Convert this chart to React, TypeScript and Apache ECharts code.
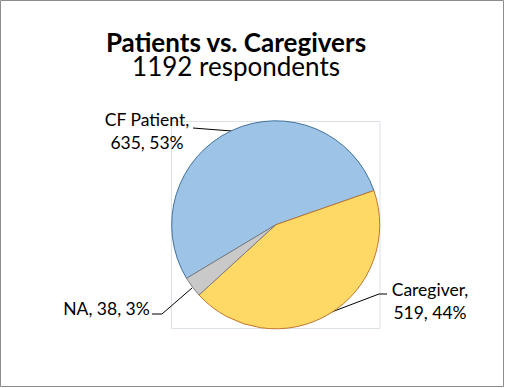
import React, { useEffect, useRef } from "react";
import * as echarts from "echarts";

const categories = ["CF Patient", "Caregiver", "NA"];
const values = [635, 519, 38];
const fills = ["#9DC3E6", "#FFD966", "#C9C9C9"];
const borders = ["#41719C", "#C0772F", "#7F7F7F"];
const titleText = "Patients vs. Caregivers";
const subtitleText = "1192 respondents";

const FONT = "Lato, 'Noto Sans', sans-serif";

// label placements (layout only)
const labelPos = [
  { x: 147, y: 131, line: [[232, 131], [212, 129.5], [193, 128]] },
  { x: 430, y: 301, line: [[329, 313], [379, 294], [387, 294]] },
  { x: 106.5, y: 308, line: [[192, 288], [162, 314], [152, 314]] },
];

export default function App() {
  const ref = useRef<HTMLDivElement>(null);
  useEffect(() => {
    if (!ref.current) return;
    const chart = echarts.init(ref.current, undefined, { renderer: "svg" });
    chart.setOption({
      animation: false,
      backgroundColor: "#fff",
      title: {
        text: `{t|${titleText}}\n{s|${subtitleText}}`,
        left: 236,
        top: 30,
        padding: 0,
        textAlign: "center",
        textStyle: {
          fontFamily: FONT,
          fontSize: 26,
          color: "#000",
          rich: {
            t: { fontFamily: FONT, fontSize: 26, fontWeight: "bold", color: "#000", lineHeight: 24 },
            s: { fontFamily: FONT, fontSize: 26, fontWeight: "normal", color: "#000", lineHeight: 24 },
          },
        },
      },
      graphic: [
        {
          type: "rect",
          shape: { x: 0.5, y: 0.5, width: 503, height: 386 },
          style: { fill: "none", stroke: "#8C8C8C", lineWidth: 1 },
          z: 0,
        },
        {
          type: "rect",
          shape: { x: 171.5, y: 121.5, width: 208.5, height: 207 },
          style: { fill: "none", stroke: "#DCE1E8", lineWidth: 1 },
          z: 0,
        },
      ],
      series: [
        {
          type: "pie",
          center: [275.7, 224.8],
          radius: 104,
          startAngle: 211,
          clockwise: true,
          avoidLabelOverlap: false,
          percentPrecision: 0,
          silent: true,
          emphasis: { disabled: true },
          data: categories.map((c, i) => ({
            name: c,
            value: values[i],
            itemStyle: { color: fills[i], borderColor: borders[i], borderWidth: 1 },
          })),
          label: {
            show: true,
            position: "outside",
            formatter: (p: any) =>
              p.dataIndex === 2 ? `${p.name}, ${p.value}, ${p.percent}%` : `${p.name},\n${p.value}, ${p.percent}%`,
            fontFamily: FONT,
            fontSize: 17.5,
            lineHeight: 23,
            color: "#000",
            align: "center",
          },
          labelLine: { show: true, lineStyle: { color: "#000", width: 1 } },
          labelLayout: (params: any) => {
            const lp = labelPos[params.dataIndex];
            return {
              x: lp.x,
              y: lp.y,
              align: "center",
              verticalAlign: "middle",
              labelLinePoints: lp.line,
            };
          },
        },
      ],
    });
    return () => chart.dispose();
  }, []);
  return (
    <div
      ref={ref}
      style={{ position: "fixed", left: 0, top: 0, width: 505, height: 388 }}
    />
  );
}
